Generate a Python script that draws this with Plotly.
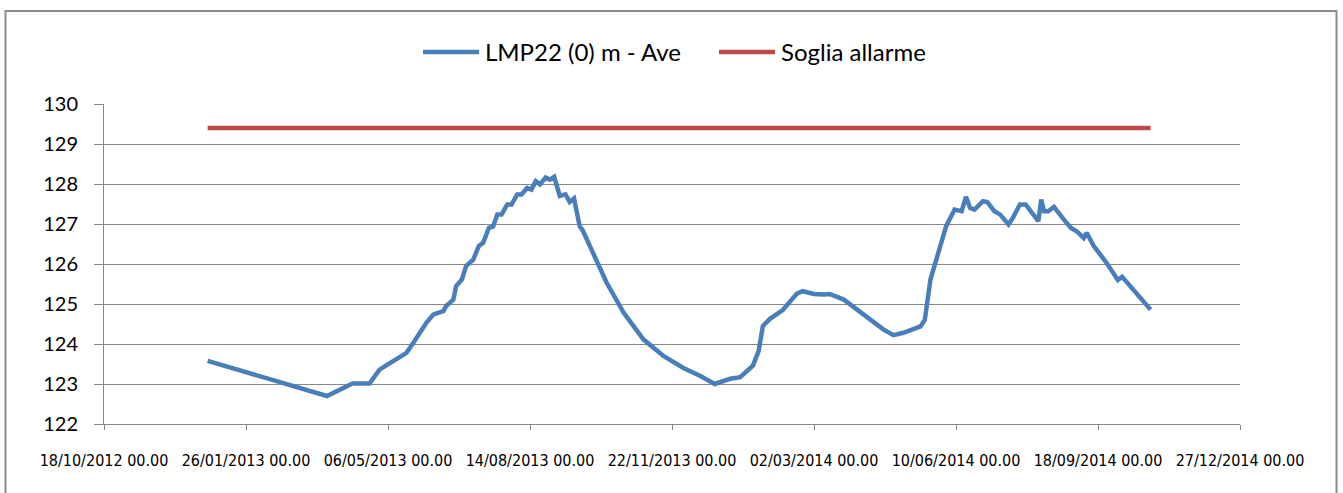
import plotly.graph_objects as go

# Piezometer LMP22 (0) m - average level readings
level_dates = [
    "2012-12-30", "2013-02-05", "2013-03-19", "2013-03-24", "2013-04-11",
    "2013-04-23", "2013-04-30", "2013-05-19", "2013-05-24", "2013-06-02",
    "2013-06-07", "2013-06-14", "2013-06-16", "2013-06-21", "2013-06-23",
    "2013-06-27", "2013-06-30", "2013-07-05", "2013-07-09", "2013-07-12",
    "2013-07-16", "2013-07-19", "2013-07-22", "2013-07-25", "2013-07-29",
    "2013-08-01", "2013-08-05", "2013-08-08", "2013-08-12", "2013-08-15",
    "2013-08-18", "2013-08-21", "2013-08-25", "2013-08-28", "2013-08-31",
    "2013-09-04", "2013-09-08", "2013-09-11", "2013-09-14", "2013-09-18",
    "2013-09-20", "2013-09-28", "2013-10-07", "2013-10-19", "2013-11-02",
    "2013-11-16", "2013-11-30", "2013-12-12", "2013-12-22", "2014-01-02",
    "2014-01-09", "2014-01-18", "2014-01-22", "2014-01-25", "2014-01-30",
    "2014-02-08", "2014-02-18", "2014-02-22", "2014-03-02", "2014-03-09",
    "2014-03-13", "2014-03-23", "2014-04-06", "2014-04-20", "2014-04-27",
    "2014-05-04", "2014-05-16", "2014-05-19", "2014-05-23", "2014-05-28",
    "2014-06-03", "2014-06-09", "2014-06-14", "2014-06-17", "2014-06-20",
    "2014-06-23", "2014-06-29", "2014-07-02", "2014-07-07", "2014-07-11",
    "2014-07-17", "2014-07-20", "2014-07-25", "2014-07-29", "2014-08-02",
    "2014-08-07", "2014-08-09", "2014-08-11", "2014-08-14", "2014-08-18",
    "2014-08-25", "2014-08-30", "2014-09-03", "2014-09-08", "2014-09-10",
    "2014-09-15", "2014-09-24", "2014-10-02", "2014-10-05", "2014-10-25",
]
level_values = [
    123.58, 123.20, 122.74, 122.70, 123.01,
    123.01, 123.36, 123.78, 124.04, 124.53,
    124.74, 124.82, 124.95, 125.11, 125.45,
    125.61, 125.95, 126.11, 126.45, 126.53,
    126.90, 126.94, 127.24, 127.24, 127.49,
    127.49, 127.74, 127.74, 127.90, 127.86,
    128.07, 127.99, 128.16, 128.11, 128.18,
    127.70, 127.74, 127.55, 127.64, 126.94,
    126.85, 126.20, 125.53, 124.78, 124.11,
    123.70, 123.40, 123.20, 123.00, 123.13,
    123.17, 123.46, 123.82, 124.45, 124.63,
    124.85, 125.26, 125.32, 125.25, 125.24,
    125.25, 125.11, 124.74, 124.36, 124.22,
    124.28, 124.44, 124.60, 125.61, 126.20,
    126.94, 127.36, 127.32, 127.68, 127.40,
    127.36, 127.57, 127.55, 127.32, 127.24,
    126.99, 127.15, 127.49, 127.49, 127.32,
    127.07, 127.61, 127.32, 127.32, 127.43,
    127.11, 126.90, 126.82, 126.65, 126.78,
    126.45, 126.03, 125.60, 125.68, 124.86,
]

# Alarm threshold
alarm_dates = ["2012-12-30", "2014-10-25"]
alarm_values = [129.4, 129.4]

series_names = ["LMP22 (0) m - Ave", "Soglia allarme"]
series_colors = ["#4A7EBB", "#BE4B48"]

# Date ticks every 100 days
tick_dates = [
    "2012-10-18", "2013-01-26", "2013-05-06", "2013-08-14", "2013-11-22",
    "2014-03-02", "2014-06-10", "2014-09-18", "2014-12-27",
]
x_range = ["2012-10-18", "2014-12-27"]
y_range = [122, 130]

W, H = 1343, 493
L, R, T, B = 104, 103, 104, 69
plot_w = W - L - R
plot_h = H - T - B


def px_x(px):
    return (px - L) / plot_w


def px_y(py):
    return (H - B - py) / plot_h


grid_col = "#878787"
label_font = "Lato, 'Open Sans', sans-serif"
date_font = "'Liberation Sans Narrow', 'Arial Narrow', 'DejaVu Sans Condensed', sans-serif"

fig = go.Figure()
fig.add_trace(go.Scatter(
    x=level_dates, y=level_values, mode="lines", name=series_names[0],
    line=dict(color=series_colors[0], width=4.5), showlegend=False,
))
fig.add_trace(go.Scatter(
    x=alarm_dates, y=alarm_values, mode="lines", name=series_names[1],
    line=dict(color=series_colors[1], width=4.5), showlegend=False,
))

# Legend keys drawn above the plot
legend_y = px_y(52)
keys = [(423, 479, 483), (719, 775, 779)]
shapes = []
annotations = []
for (x0, x1, xt), name, col in zip(keys, series_names, series_colors):
    shapes.append(dict(type="line", xref="paper", yref="paper",
                       x0=px_x(x0), x1=px_x(x1), y0=legend_y, y1=legend_y,
                       line=dict(color=col, width=4.5)))
    annotations.append(dict(xref="paper", yref="paper", x=px_x(xt), y=legend_y,
                            text=name, showarrow=False, xanchor="left",
                            yanchor="middle",
                            font=dict(family=label_font, size=24, color="#000")))

# Chart-area frame
shapes.append(dict(type="rect", xref="paper", yref="paper",
                   x0=px_x(5.5), x1=px_x(1336.5), y0=px_y(505), y1=px_y(11),
                   line=dict(color="#8C8C8C", width=2), layer="below"))

fig.update_layout(
    width=W, height=H,
    margin=dict(l=L, r=R, t=T, b=B, autoexpand=False),
    paper_bgcolor="white", plot_bgcolor="white",
    shapes=shapes, annotations=annotations,
    showlegend=False,
)
fig.update_xaxes(
    range=x_range, tickmode="array", tickvals=tick_dates,
    tickformat="%d/%m/%Y %H.%M", tickangle=0, automargin=False,
    showgrid=False, zeroline=False,
    showline=True, linecolor=grid_col, linewidth=1,
    ticks="outside", ticklen=5, tickcolor=grid_col,
    ticklabelstandoff=17,
    tickfont=dict(family=date_font, size=16, color="#000"),
)
fig.update_yaxes(
    range=y_range, dtick=1, automargin=False,
    showgrid=True, gridcolor=grid_col, gridwidth=1,
    zeroline=False,
    showline=True, linecolor=grid_col, linewidth=1,
    ticks="outside", ticklen=9, tickcolor=grid_col,
    ticklabelstandoff=12,
    tickfont=dict(family=label_font, size=20, color="#000"),
)

fig.write_html("out.html")
